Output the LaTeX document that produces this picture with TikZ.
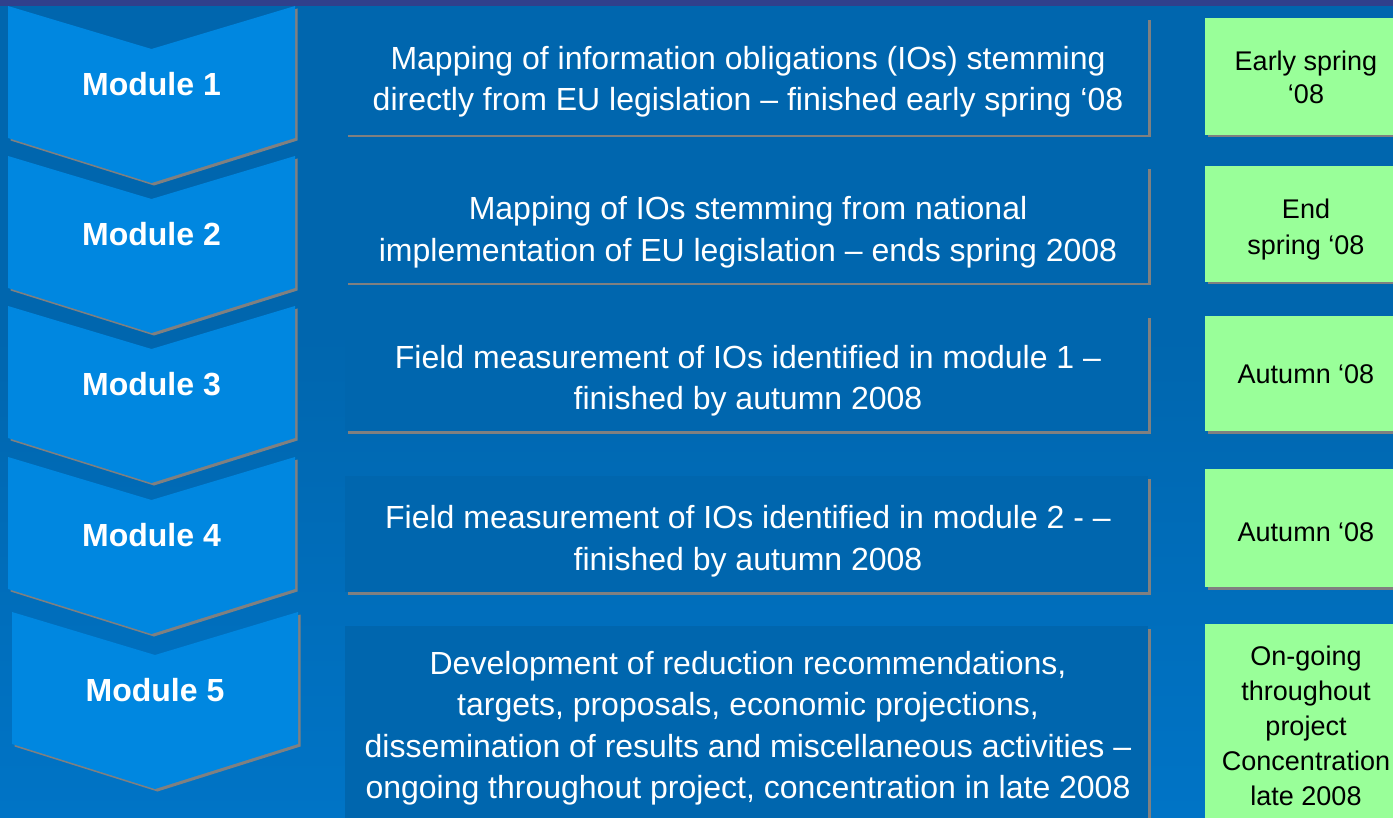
\documentclass[tikz,border=0pt]{standalone}
\usepackage{fontspec}
\setmainfont{Liberation Sans}
\usetikzlibrary{shadows}
\definecolor{bgtop}{RGB}{0,102,174}
\definecolor{bgbottom}{RGB}{0,116,198}
\definecolor{bandnavy}{RGB}{48,64,140}
\definecolor{chevblue}{RGB}{0,135,224}
\definecolor{boxblue}{RGB}{0,102,174}
\definecolor{shadowgray}{RGB}{128,128,128}
\definecolor{datefill}{RGB}{153,255,153}
\begin{document}
\begin{tikzpicture}[x=1pt,y=-1pt,
  grayshadow/.style={general shadow={shadow xshift=2.5pt, shadow yshift=-2.5pt, fill=shadowgray, draw=none}},
  chevron/.style={fill=chevblue, grayshadow},
  modlabel/.style={text=white, font=\fontsize{32}{38}\selectfont\bfseries, inner sep=0pt},
  taskbox/.style={fill=boxblue, grayshadow, inner sep=0pt, minimum width=803},
  tasktext/.style={inner sep=0pt, align=center, text=white, font=\fontsize{32}{41.5}\selectfont},
  datebox/.style={fill=datefill, grayshadow, inner sep=0pt, minimum width=202},
  datetext/.style={inner sep=0pt, align=center, text=black, font=\fontsize{27}{35}\selectfont}]
\useasboundingbox (0,0) rectangle (1393,818);
\clip (0,0) rectangle (1393,818);

% background: flat blue above, lightening towards the bottom, navy band on top
\fill[bgtop] (0,0) rectangle (1393,330);
\shade[top color=bgtop, bottom color=bgbottom] (0,329) rectangle (1393,818);
\fill[bandnavy] (0,0) rectangle (1393,6);

% module chevrons: left / top / right / number
\foreach \l/\t/\r/\n in {8/6/295/1, 8/156/295/2, 8/306/295/3, 8/457/295/4, 12/612/298/5}{
  \pgfmathsetmacro\m{(\l+\r)/2}
  \path[chevron] (\l,\t) -- (\m,\t+43) -- (\r,\t) -- (\r,\t+132)
    -- (\m,\t+177) -- (\l,\t+132) -- cycle;
  \node[modlabel] (mod\n) at (\m,\t+78) {Module \n};
}

% task description boxes
\node[taskbox, minimum height=117] (task1) at (746.5,76.5) {};
\node[taskbox, minimum height=116] (task2) at (746.5,225) {};
\node[taskbox, minimum height=115] (task3) at (746.5,373.5) {};
\node[taskbox, minimum height=116] (task4) at (746.5,534) {};
\node[taskbox, minimum height=196] (task5) at (746.5,724) {};

\node[tasktext] (task1text) at (748,81.5)
  {Mapping of information obligations (IOs) stemming\\directly from EU legislation – finished early spring ‘08};
\node[tasktext] (task2text) at (748,232)
  {Mapping of IOs stemming from national\\implementation of EU legislation – ends spring 2008};
\node[tasktext] (task3text) at (748,380.5)
  {Field measurement of IOs identified in module 1 –\\finished by autumn 2008};
\node[tasktext] (task4text) at (748,541)
  {Field measurement of IOs identified in module 2 - –\\finished by autumn 2008};
\node[tasktext] (task5text) at (748,728)
  {Development of reduction recommendations,\\targets, proposals, economic projections,\\dissemination of results and miscellaneous activities –\\ongoing throughout project, concentration in late 2008};

% timing boxes
\node[datebox, minimum height=117] (date1) at (1306,76.5) {};
\node[datebox, minimum height=116] (date2) at (1306,224) {};
\node[datebox, minimum height=115] (date3) at (1306,373.5) {};
\node[datebox, minimum height=118] (date4) at (1306,528) {};
\node[datebox, minimum height=200] (date5) at (1306,724) {};

\node[datetext, font=\fontsize{27}{33.5}\selectfont] (date1text) at (1306,77.5) {Early spring\\‘08};
\node[datetext, font=\fontsize{27}{36}\selectfont] (date2text) at (1306,230) {End\\spring ‘08};
\node[datetext] (date3text) at (1306,374.5) {Autumn ‘08};
\node[datetext] (date4text) at (1306,532) {Autumn ‘08};
\node[datetext] (date5text) at (1306,726) {On-going\\throughout\\project\\Concentration\\late 2008};
\end{tikzpicture}
\end{document}
